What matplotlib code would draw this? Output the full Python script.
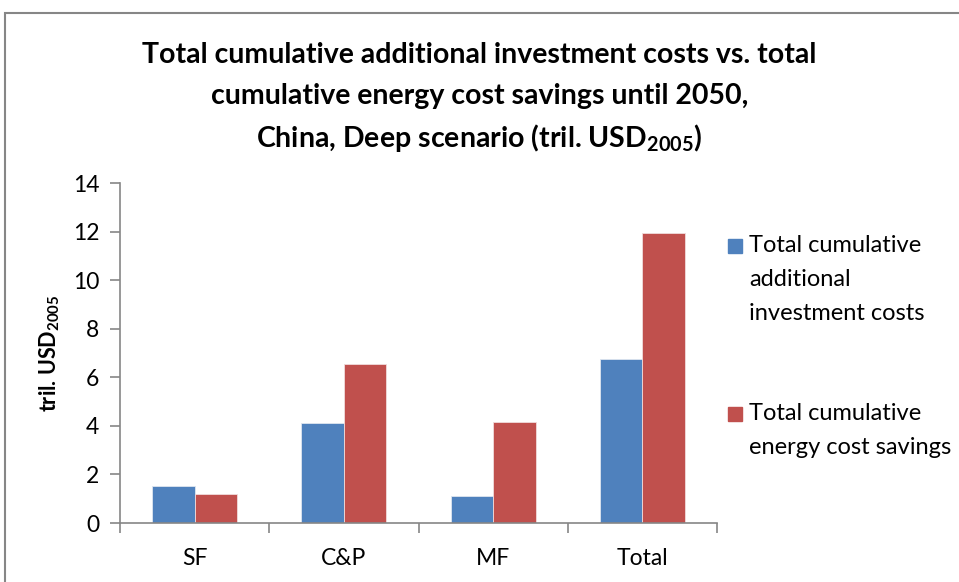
import numpy as np
import matplotlib
matplotlib.use("Agg")
import matplotlib.pyplot as plt
from matplotlib.patches import Rectangle

# ---- data ----
categories = ["SF", "C&P", "MF", "Total"]
investment = [1.51, 4.12, 1.12, 6.76]
savings    = [1.21, 6.55, 4.16, 11.94]
y_ticks    = [0, 2, 4, 6, 8, 10, 12, 14]
labels     = ["Total cumulative\nadditional\ninvestment costs",
              "Total cumulative\nenergy cost savings"]

BLUE = "#4F81BD"
RED  = "#C0504D"
GREY = "#868686"

plt.rcParams["font.family"] = ["Lato", "DejaVu Sans"]
plt.rcParams["mathtext.fontset"] = "custom"
plt.rcParams["mathtext.rm"] = "Lato"
plt.rcParams["mathtext.bf"] = "Lato:bold"

fig = plt.figure(figsize=(9.59, 5.82), dpi=100)
ax = fig.add_axes([120 / 959, 59 / 582, 597 / 959, 340 / 582])

x = np.arange(len(categories))
w = 0.285
b1 = ax.bar(x - w / 2, investment, w, color=BLUE, edgecolor="#dfe6f0", linewidth=0.6)
b2 = ax.bar(x + w / 2, savings, w, color=RED, edgecolor="#f0dcdc", linewidth=0.6)

ax.set_xlim(-0.5, len(categories) - 0.5)
ax.set_ylim(0, 14)
ax.set_yticks(y_ticks)
ax.set_xticks(x)
ax.set_xticklabels(categories)
ax.set_xticks(np.arange(len(categories) + 1) - 0.5, minor=True)
ax.tick_params(axis="x", which="major", length=0, pad=18, labelsize=16.5)
ax.tick_params(axis="x", which="minor", length=7, color=GREY, width=1.2)
ax.tick_params(axis="y", length=7, color=GREY, width=1.2, labelsize=16.5, pad=8)

for s in ["top", "right"]:
    ax.spines[s].set_visible(False)
for s in ["left", "bottom"]:
    ax.spines[s].set_color(GREY)
    ax.spines[s].set_linewidth(1.2)

ax.set_ylabel(r"tril. USD$_{\mathbf{2005}}$", fontsize=15.5, fontweight="bold", labelpad=8)

# legend drawn by hand: square next to the first line of each label
sq_tops = [239, 407]
for h, lab, top in zip([b1, b2], labels, sq_tops):
    fig.patches.append(Rectangle((728 / 959, 1 - (top + 14) / 582), 14 / 959, 14 / 582,
                                 transform=fig.transFigure,
                                 color=h.patches[0].get_facecolor()))
    fig.text(749 / 959, 1 - (top - 4) / 582, lab, ha="left", va="top",
             fontsize=17, linespacing=1.75)

fig.text(0.5, 0.905, "Total cumulative additional investment costs vs. total",
         ha="center", va="center", fontsize=20.5, fontweight="bold")
fig.text(0.5, 0.835, "cumulative energy cost savings until 2050,",
         ha="center", va="center", fontsize=20.5, fontweight="bold")
fig.text(0.5, 0.763, r"China, Deep scenario (tril. USD$_{\mathbf{2005}}$)",
         ha="center", va="center", fontsize=20.5, fontweight="bold")

fig.patches.append(Rectangle((5 / 959, -0.1), 1.2, (582 - 13) / 582 + 0.1,
                             transform=fig.transFigure, fill=False,
                             edgecolor=GREY, linewidth=1.5))

fig.savefig("out.png", dpi=100)
